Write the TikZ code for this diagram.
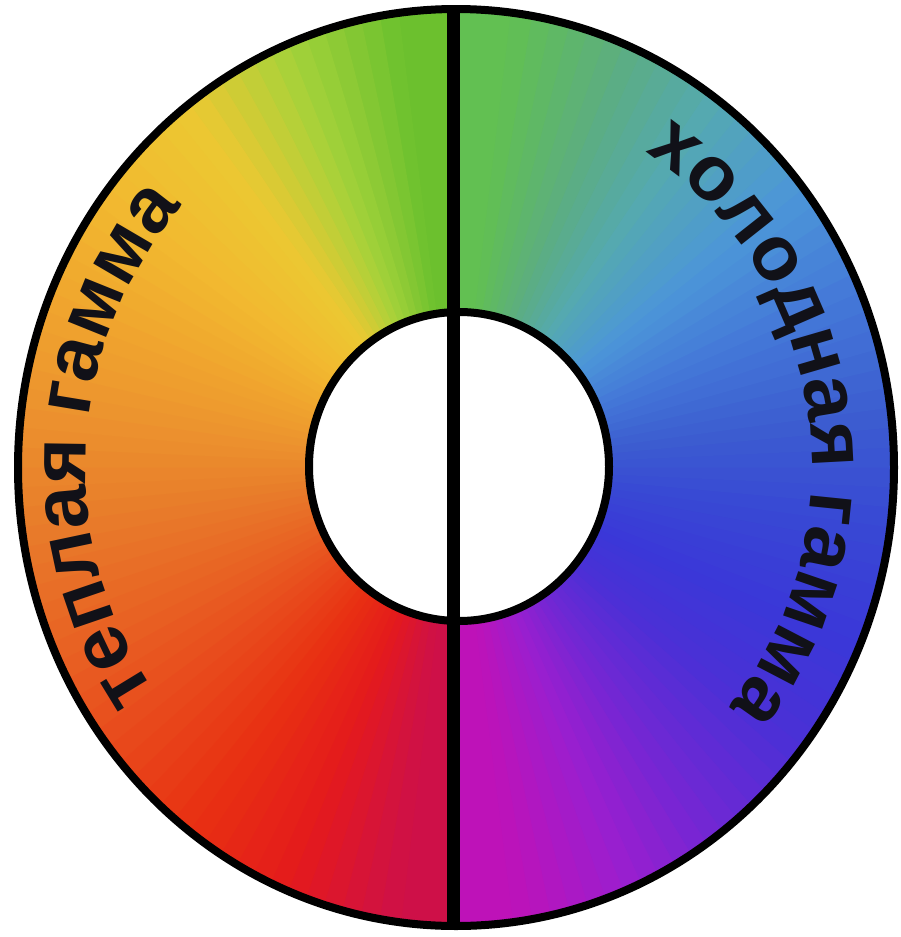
\documentclass[tikz,border=0pt]{standalone}
\usepackage{fontspec}
\setmainfont{Liberation Sans}
\usetikzlibrary{decorations.text}
\definecolor{b0}{HTML}{6CC02E}
\definecolor{b1}{HTML}{A4D23A}
\definecolor{b2}{HTML}{ECC832}
\definecolor{b3}{HTML}{F2BA30}
\definecolor{b4}{HTML}{F0A62E}
\definecolor{b5}{HTML}{EC922E}
\definecolor{b6}{HTML}{E87C2A}
\definecolor{b7}{HTML}{E86424}
\definecolor{b8}{HTML}{E84A1C}
\definecolor{b9}{HTML}{E83012}
\definecolor{b10}{HTML}{E41A1C}
\definecolor{b11}{HTML}{CE1048}
\definecolor{b12}{HTML}{BE12B8}
\definecolor{b13}{HTML}{9C1ECE}
\definecolor{b14}{HTML}{6E28D4}
\definecolor{b15}{HTML}{4A30D6}
\definecolor{b16}{HTML}{3A38D8}
\definecolor{b17}{HTML}{3848D4}
\definecolor{b18}{HTML}{3C5ED0}
\definecolor{b19}{HTML}{4478D8}
\definecolor{b20}{HTML}{4C96D8}
\definecolor{b21}{HTML}{54A8B4}
\definecolor{b22}{HTML}{5CAE80}
\definecolor{b23}{HTML}{62C052}
\definecolor{inkc}{HTML}{111118}
\newcommand{\lblfont}{\fontsize{78}{88}\selectfont\bfseries}
\tikzset{
  ringline/.style={line width=8pt, draw=black},
  divline/.style={line width=13pt, draw=black},
  arctext/.style={decorate, decoration={text along path, text align=center,
     text color=inkc, text={|\lblfont|#1}}}
}
\begin{document}
\begin{tikzpicture}[x=1pt,y=1pt]
\useasboundingbox (0,0) rectangle (900,-937);
\fill[white] (0,0) rectangle (900,-937);
\coordinate (c) at (456,-467.5);
% flat end pieces
\fill[b0] (c) -- ++(90:438 and 458.5) arc[start angle=90, end angle=97.8, x radius=438, y radius=458.5] -- cycle;
\fill[b11] (c) -- ++(262.2:438 and 458.5) arc[start angle=262.2, end angle=270, x radius=438, y radius=458.5] -- cycle;
\fill[b12] (c) -- ++(270:438 and 458.5) arc[start angle=270, end angle=277.8, x radius=438, y radius=458.5] -- cycle;
\fill[b23] (c) -- ++(442.2:438 and 458.5) arc[start angle=442.2, end angle=450, x radius=438, y radius=458.5] -- cycle;
% blended sectors
\foreach \k in {0,...,10,12,13,...,22}{
  \pgfmathtruncatemacro\kn{\k+1}
  \foreach \j in {0,...,5}{
    \pgfmathsetmacro\a{97.5+15*\k+2.5*\j}
    \pgfmathsetmacro\e{\a+2.8}
    \pgfmathtruncatemacro\p{(\j+0.5)/6*100}
    \colorlet{cc}{b\kn!\p!b\k}
    \fill[cc] (c) -- ++(\a:438 and 458.5) arc[start angle=\a, end angle=\e, x radius=438, y radius=458.5] -- cycle;
  }
}
% labels
\path[arctext={теплая гамма}] (c) ++(220:370 and 388) arc[start angle=220, end angle=133, x radius=370, y radius=388];
\path[arctext={холодная гамма}] (c) ++(60:356 and 373) arc[start angle=60, end angle=-42, x radius=356, y radius=373];
% divider and rings
\coordinate (top) at (453,-9);
\coordinate (bot) at (453,-926);
\draw[divline] (top) -- (bot);
\draw[ringline] (c) ellipse [x radius=438, y radius=458.5];
\coordinate (ic) at (459,-466.5);
\draw[ringline, fill=white] (ic) ellipse [x radius=150, y radius=154.5];
\draw[divline] (453,-312) -- (453,-621);
\end{tikzpicture}
\end{document}
